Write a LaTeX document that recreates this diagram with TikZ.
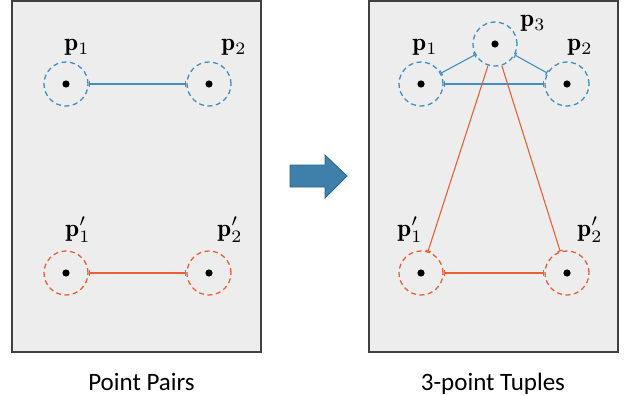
\documentclass[tikz,border=0pt]{standalone}
\usepackage{fontspec}
\setsansfont{Carlito}
\usetikzlibrary{arrows.meta}
\definecolor{bgpanel}{RGB}{237,237,237}
\definecolor{pborder}{RGB}{64,64,64}
\definecolor{cblue}{RGB}{66,142,192}
\definecolor{corange}{RGB}{232,96,58}
\definecolor{arrowfill}{RGB}{62,128,170}
\definecolor{arrowedge}{RGB}{45,100,140}
\begin{document}
\begin{tikzpicture}[x=1pt,y=-1pt,
 panel/.style={draw=pborder,fill=bgpanel,line width=1.2pt},
 ptcircle/.style={circle,dash pattern=on 5pt off 3.5pt,line width=1.3pt,minimum size=44pt,inner sep=0pt},
 bluept/.style={ptcircle,draw=cblue},
 orangept/.style={ptcircle,draw=corange},
 lbl/.style={scale=2.5,inner sep=0pt,anchor=base},
 tick/.tip={Bar[width=5.5pt]},
 bothbar/.style={line width=1.1pt,tick-tick},
 endbar/.style={line width=1.1pt,-tick},
 caption/.style={font=\sffamily\fontsize{25}{28}\selectfont,inner sep=0pt,anchor=base}
]
\useasboundingbox (0,0) rectangle (627,396);
% panels
\draw[panel] (12,1) rectangle (261,352);
\draw[panel] (369,1) rectangle (618,352);
% left panel points
\node[bluept] (L1) at (66,84) {};
\node[bluept] (L2) at (209,84) {};
\node[orangept] (L1p) at (66,273) {};
\node[orangept] (L2p) at (209,273) {};
% right panel points
\node[bluept] (R1) at (421,84) {};
\node[bluept] (R2) at (567,84) {};
\node[bluept] (R3) at (495,44) {};
\node[orangept] (R1p) at (421,273) {};
\node[orangept] (R2p) at (567,273) {};
% dots
\foreach \n in {L1,L2,L1p,L2p,R1,R2,R3,R1p,R2p}
  \fill[black] (\n.center) circle (3.6);
% labels
\node[lbl] (tL1) at (77,51) {$\mathbf{p}_1$};
\node[lbl] (tL2) at (234,51) {$\mathbf{p}_2$};
\node[lbl] (tL1p) at (78,236) {$\mathbf{p}'_1$};
\node[lbl] (tL2p) at (230,236) {$\mathbf{p}'_2$};
\node[lbl] (tR1) at (425,51) {$\mathbf{p}_1$};
\node[lbl] (tR2) at (580,51) {$\mathbf{p}_2$};
\node[lbl] (tR3) at (533,27) {$\mathbf{p}_3$};
\node[lbl] (tR1p) at (410,236) {$\mathbf{p}'_1$};
\node[lbl] (tR2p) at (590,236) {$\mathbf{p}'_2$};
% left connectors
\draw[bothbar,cblue] (L1) -- (L2);
\draw[bothbar,corange] (L1p) -- (L2p);
% right connectors
\draw[bothbar,cblue] (R3) -- (R1);
\draw[bothbar,cblue] (R3) -- (R2);
\draw[bothbar,cblue] (R1) -- (R2);
\draw[endbar,corange] (R3) -- (R1p);
\draw[endbar,corange] (R3) -- (R2p);
\draw[bothbar,corange] (R1p) -- (R2p);
% block arrow
\draw[fill=arrowfill,draw=arrowedge,line width=0.8pt,line join=miter]
  (290,165) -- (325,165) -- (325,155) -- (347,176) -- (325,198) -- (325,187) -- (290,187) -- cycle;
% captions
\node[caption] (c1) at (141.5,390.5) {Point Pairs};
\node[caption] (c2) at (493,390.5) {3-point Tuples};
\end{tikzpicture}
\end{document}
